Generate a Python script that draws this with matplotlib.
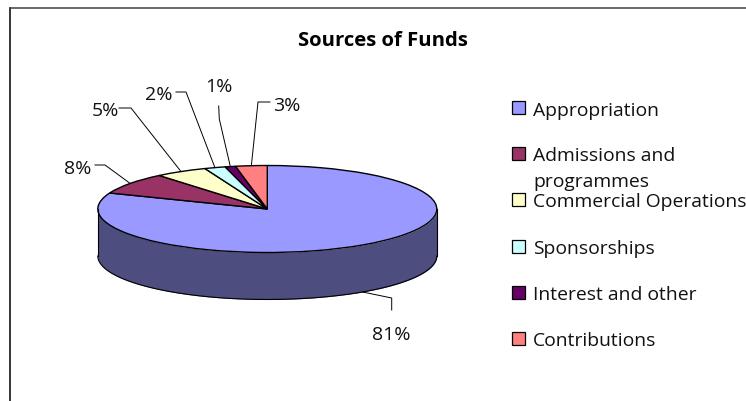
import numpy as np
import matplotlib
matplotlib.use("Agg")
import matplotlib.pyplot as plt
from matplotlib.patches import Rectangle

W, H = 746, 402

title = "Sources of Funds"
categories = ["Appropriation", "Admissions and\nprogrammes", "Commercial Operations",
              "Sponsorships", "Interest and other", "Contributions"]
shares = [81, 8, 5, 2, 1, 3]
colors = ["#9999FF", "#993366", "#FFFFCC", "#CCFFFF", "#660066", "#FF8080"]
wall_color = "#4D4D80"

# pie geometry, pixels
cx, cy, rx, ry, depth = 267.3, 210, 169.5, 43.5, 47

# label text centre x + baseline y, then the elbow of its leader
label_pos = [(391, 340), (78, 174), (105, 116), (159, 100.5), (219, 92.5), (287, 111)]
elbows = [[(391.7, 299), (391.7, 311)],
          [(105, 166), (95, 166)],
          [(131, 109), (119, 109)],
          [(186, 93), (176, 93)],
          [(219.3, 120), (218.7, 107)],
          [(258, 103), (270, 103)]]
legend_y = [108, 154, 200, 247, 293, 339]

plt.rcParams["font.family"] = ["Open Sans", "DejaVu Sans"]
fig = plt.figure(figsize=(W / 100, H / 100), dpi=100, facecolor="white")

# the pie: unit radius, squashed by the axes limits
pie_ax = fig.add_axes([(cx - rx) / W, 1 - (cy + ry + depth) / H, 2 * rx / W, (2 * ry + depth) / H])
theta = np.linspace(np.pi, 2 * np.pi, 200)
pie_ax.fill_between(np.cos(theta), np.sin(theta), np.sin(theta) - depth / ry,
                    color=wall_color, lw=0)
pie_ax.plot(np.cos(theta), np.sin(theta) - depth / ry, color="black", lw=0.8, clip_on=False)
pie_ax.plot([-1, -1], [0, -depth / ry], color="black", lw=0.8, clip_on=False)
pie_ax.plot([1, 1], [0, -depth / ry], color="black", lw=0.8, clip_on=False)
wedges, _ = pie_ax.pie(shares, colors=colors, startangle=90, counterclock=False, radius=1,
                       wedgeprops={"edgecolor": "black", "linewidth": 1.0})
for w in wedges:
    w.set_clip_on(False)
pie_ax.set_aspect("auto")
pie_ax.set_xlim(-1, 1)
pie_ax.set_ylim(-1 - depth / ry, 1)
pie_ax.axis("off")

# overlay in pixel coordinates
ax = fig.add_axes([0, 0, 1, 1], zorder=5)
ax.set_xlim(0, W)
ax.set_ylim(H, 0)
ax.axis("off")

ax.plot([10, 10], [8.5, H], color="black", lw=1.1)
ax.plot([10, W], [8.5, 8.5], color="#404040", lw=1.1)

ax.text(382.5, 46.5, title, ha="center", va="baseline", fontsize=14.6, fontweight="bold",
        color="black")

angle = 90.0
for share, pos, elbow in zip(shares, label_pos, elbows):
    mid = np.radians(angle - share * 3.6 / 2)
    angle -= share * 3.6
    x0 = cx + rx * np.cos(mid)
    y0 = cy - ry * np.sin(mid)
    if np.sin(mid) < 0:
        y0 += depth
    xs = [x0] + [p[0] for p in elbow]
    ys = [y0] + [p[1] for p in elbow]
    ax.plot(xs, ys, color="black", lw=0.7)
    ax.text(pos[0], pos[1], f"{share}%", ha="center", va="baseline", fontsize=14, color="#111111")

for name, color, y in zip(categories, colors, legend_y):
    ax.add_patch(Rectangle((512, y - 6.5), 13, 13, facecolor=color, edgecolor="black", lw=0.9))
    lines = name.split("\n")
    for i, line in enumerate(lines):
        ax.text(533, y + 7.5 + i * 26, line, ha="left", va="baseline", fontsize=13.9, color="#111111")

fig.savefig("out.png", dpi=100)
